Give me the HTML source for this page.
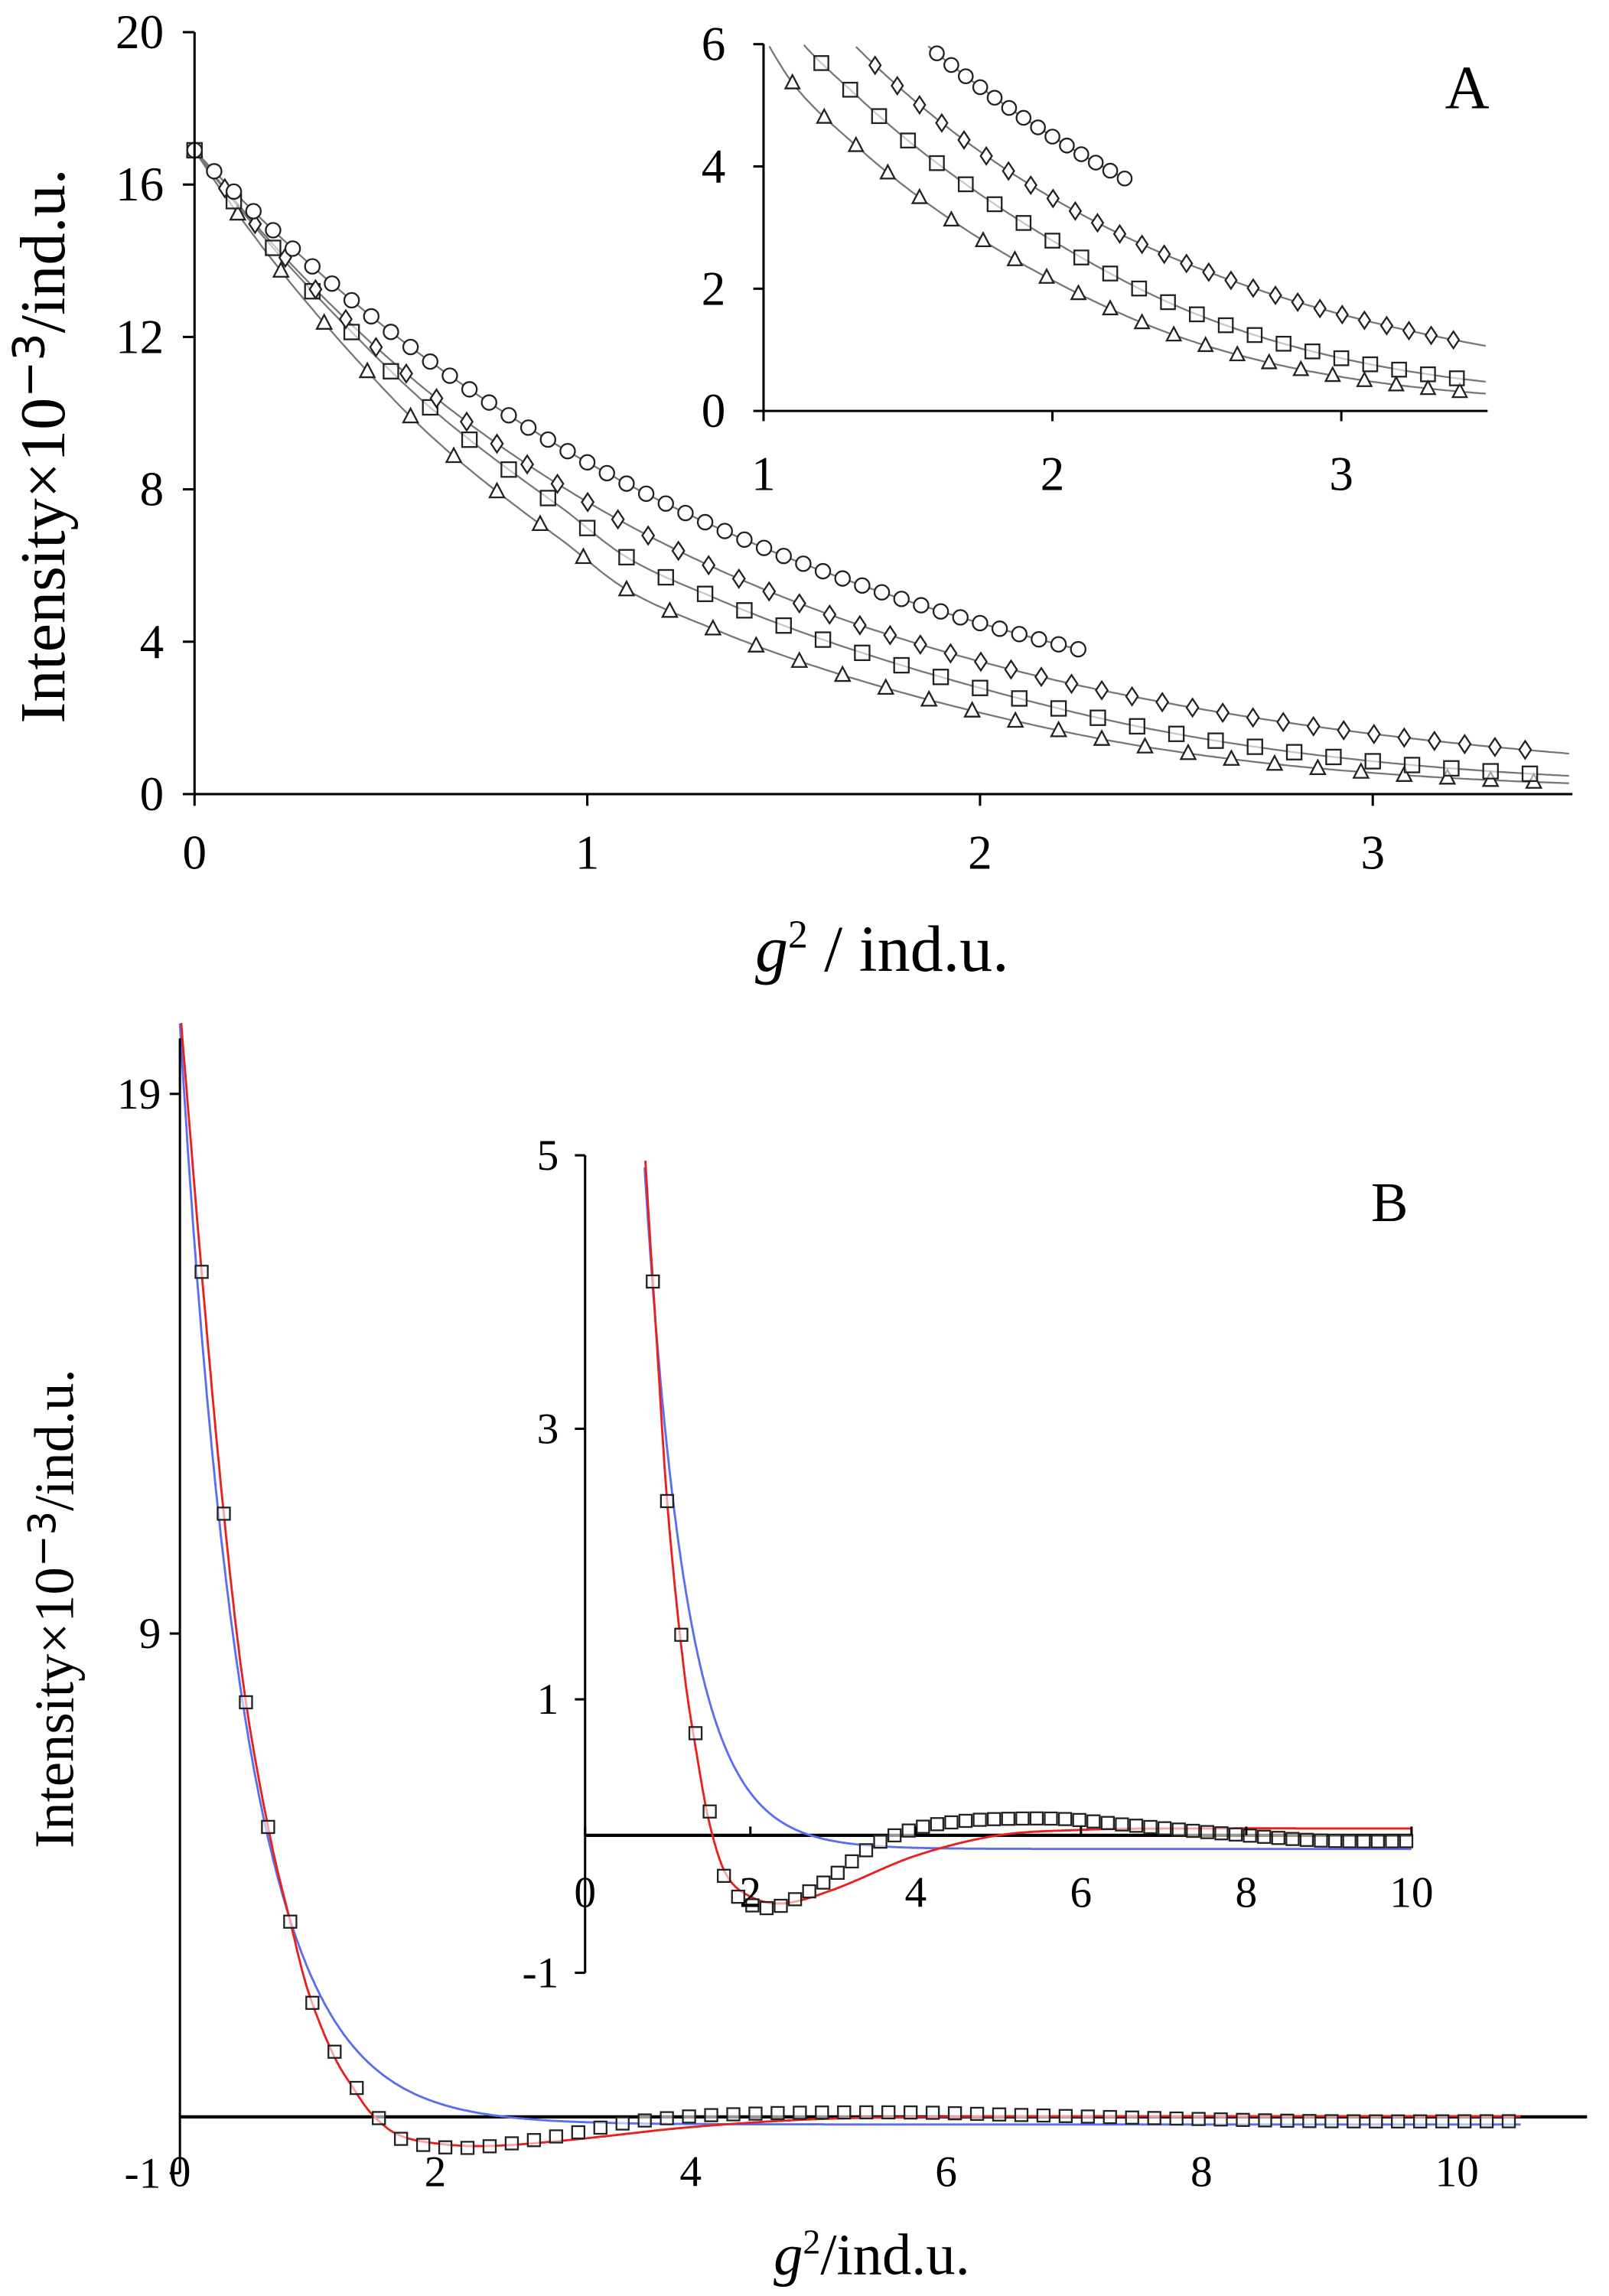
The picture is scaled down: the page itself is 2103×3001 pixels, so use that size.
<!DOCTYPE html>
<html><head><meta charset="utf-8"><style>
html,body{margin:0;padding:0;background:#fff;}
svg{display:block;font-family:"Liberation Serif",serif;}
</style></head><body>
<svg id="s" xmlns="http://www.w3.org/2000/svg" width="2103" height="3001" viewBox="0 0 1100 1570" preserveAspectRatio="none">
<rect width="1100" height="1570" fill="#fff"/>
<g id="g"></g>
</svg>
<script>
const g=document.getElementById('g');let out='';
function L(x1,y1,x2,y2,c='#000',w=1.6){out+=`<line x1="${x1}" y1="${y1}" x2="${x2}" y2="${y2}" stroke="${c}" stroke-width="${w}"/>`;}
function T(x,y,s,fs,anchor='middle',extra=''){out+=`<text x="${x}" y="${y}" font-size="${fs}" text-anchor="${anchor}" ${extra}>${s}</text>`;}
function poly(pts,c,w){out+=`<polyline fill="none" stroke="${c}" stroke-width="${w}" points="${pts.map(p=>p[0].toFixed(1)+','+p[1].toFixed(1)).join(' ')}"/>`;}
function mk(type,x,y,s){const c='#222',w=1.2;
 if(type=='c')out+=`<circle cx="${x}" cy="${y}" r="${s}" fill="#fff" stroke="${c}" stroke-width="${w}"/>`;
 else if(type=='s')out+=`<rect x="${x-s}" y="${y-s}" width="${2*s}" height="${2*s}" fill="#fff" fill-opacity="0.6" stroke="${c}" stroke-width="${w}"/>`;
 else if(type=='d')out+=`<polygon points="${x},${y-s*1.2} ${x+s*0.8},${y} ${x},${y+s*1.2} ${x-s*0.8},${y}" fill="#fff" stroke="${c}" stroke-width="${w}"/>`;
 else if(type=='t')out+=`<polygon points="${x},${y-s*1.1} ${x+s},${y+s*0.8} ${x-s},${y+s*0.8}" fill="#fff" stroke="${c}" stroke-width="${w}"/>`;}
function cr(tab){return x=>{let i=0;while(i<tab.length-2&&x>tab[i+1][0])i++;
 const p0=tab[Math.max(i-1,0)],p1=tab[i],p2=tab[i+1],p3=tab[Math.min(i+2,tab.length-1)];
 const t=(x-p1[0])/(p2[0]-p1[0]);const m1=(p2[1]-p0[1])/(p2[0]-p0[0])*(p2[0]-p1[0]),m2=(p3[1]-p1[1])/(p3[0]-p1[0])*(p2[0]-p1[0]);
 const t2=t*t,t3=t2*t;return (2*t3-3*t2+1)*p1[1]+(t3-2*t2+t)*m1+(-2*t3+3*t2)*p2[1]+(t3-t2)*m2;};}
// ===== Panel A =====
const H=cr([[0,0],[0.37,0.3],[0.56,0.465],[0.93,0.79],[1.11,0.99],[1.33,1.17],[1.77,1.55],[2.11,1.88],[2.48,2.3],[2.86,2.75],[3.34,3.32],[3.6,3.6]]);
const ks=[0.663,0.79,1.02,1.17],ws=[0,0,1,1],types=['c','d','s','t'],steps=[0.05,0.077,0.1,0.11],ends=[2.25,3.45,3.45,3.45],cend=[2.25,3.5,3.5,3.5];
const fA=(i,x)=>16.9*Math.exp(-ks[i]*(x+ws[i]*(H(x)-x)));
const XA=x=>133+268.5*x, YA=y=>543-26.05*y;
const XI=x=>522+197.5*(x-1), YI=y=>281-41.8*y;
for(let i=0;i<4;i++){
 let p=[];for(let x=0;x<=cend[i]+1e-9;x+=0.01)p.push([XA(x),YA(fA(i,x))]);poly(p,'#777',1.2);
 let q=[];for(let x=1;x<=cend[i]+1e-9;x+=0.01){const y=fA(i,x);if(y<=6)q.push([XI(x),YI(y)]);}poly(q,'#777',1.2);
}
for(let i=3;i>=0;i--){
 for(let x=0;x<=ends[i]+1e-9;x+=steps[i]){const y=fA(i,x);mk(types[i],XA(x),YA(y),5);
  if(x>=1&&y<=6)mk(types[i],XI(x),YI(y),4.8);}
}
L(133,22,133,543);L(133,543,1075,543);
[0,4,8,12,16,20].forEach(v=>{const y=YA(v);L(125,y,133,y);T(112,y+11,v,33,'end');});
[0,1,2,3].forEach(v=>{const x=XA(v);L(x,543,x,551);T(x,594,v,33);});
L(522,30,522,281);L(522,281,1017,281);
[0,2,4,6].forEach(v=>{const y=YI(v);L(515,y,522,y);T(496,y+11,v,33,'end');});
[1,2,3].forEach(v=>{const x=XI(v);L(x,281,x,288);T(x,335,v,33);});
T(1003,74,'A',42);
T(30,305,'Intensity×10<tspan font-family="DejaVu Sans" font-size="30" dy="-14">−3</tspan><tspan dy="14">/ind.u.</tspan>',44,'middle','transform="rotate(-90 30 305)" dy="14"');
T(603,664,'<tspan font-style="italic">g</tspan><tspan font-size="27" dy="-16">2</tspan><tspan dy="16"> / ind.u.</tspan>',45);
// ===== Panel B =====
const D=cr([[0,20.6],[0.17,15.7],[0.34,11.3],[0.5,8.0],[0.7,5.3],[0.87,3.6],[1.0,2.4],[1.2,1.3],[1.35,0.7],[1.5,0.2],[1.67,-0.28],[1.85,-0.45],[2.05,-0.52],[2.3,-0.53],[2.6,-0.45],[3.0,-0.3],[3.5,-0.07],[4.0,0.05],[4.5,0.1],[5.0,0.12],[5.8,0.12],[6.5,0.08],[8,0.0],[9,-0.04],[10.6,-0.04]]);
const R=cr([[0,20.6],[0.17,15.7],[0.34,11.3],[0.5,8.0],[0.7,5.3],[0.87,3.6],[1.0,2.4],[1.2,1.2],[1.35,0.6],[1.5,0.1],[1.7,-0.28],[2.0,-0.45],[2.4,-0.5],[3.0,-0.4],[4.0,-0.15],[5,0],[6,0.04],[7,0.05],[10.6,0.05]]);
const B=x=>20.4*Math.exp(-1.95*x)-0.1;
const XB=x=>123+87.3*x, YB=y=>1449-36.9*y;
const XJ=x=>400+56.5*x, YJ=y=>1255-93*y;
L(123,1447.5,1085,1447.5,'#000',2.2);L(400,1255,965,1255,'#000',2.2);
[[B,'#5b6ef0'],[R,'#e8211f']].forEach(([f,c])=>{
 let p=[];for(let x=0;x<=10.5;x+=0.01){const y=f(x);if(y<=20.35)p.push([XB(x),YB(y)]);}poly(p,c,1.5);
 let q=[];for(let x=0.5;x<=10;x+=0.01){const y=f(x);if(y<=5)q.push([XJ(x),YJ(y)]);}poly(q,c,1.5);
});
for(let x=0.17;x<=10.52;x+=0.1735)mk('s',XB(x),YB(D(x)),4.2);
for(let x=0.82;x<=10.01;x+=0.172)mk('s',XJ(x),YJ(D(x)),4.2);
L(123,710,123,1486);
[[19,748],[9,1117],[-1,1486]].forEach(([v,y])=>{L(116,y,123,y);T(110,y+10,v,30,'end');});
[0,2,4,6,8,10].forEach(v=>{T(XB(v),1495,v,30);});
L(400,790,400,1349);
[[5,790],[3,977],[1,1162],[-1,1349]].forEach(([v,y])=>{L(393,y,400,y);T(382,y+10,v,30,'end');});
[0,2,4,6,8,10].forEach(v=>{L(XJ(v),1255,XJ(v),1249);T(XJ(v),1304,v,30);});
T(950,835,'B',38);
T(38,1100,'Intensity×10<tspan font-family="DejaVu Sans" font-size="26" dy="-12">−3</tspan><tspan dy="12">/ind.u.</tspan>',38,'middle','transform="rotate(-90 38 1100)" dy="12"');
T(596,1555,'<tspan font-style="italic">g</tspan><tspan font-size="24" dy="-14">2</tspan><tspan dy="14">/ind.u.</tspan>',40);
g.innerHTML=out;
</script>
</body></html>
